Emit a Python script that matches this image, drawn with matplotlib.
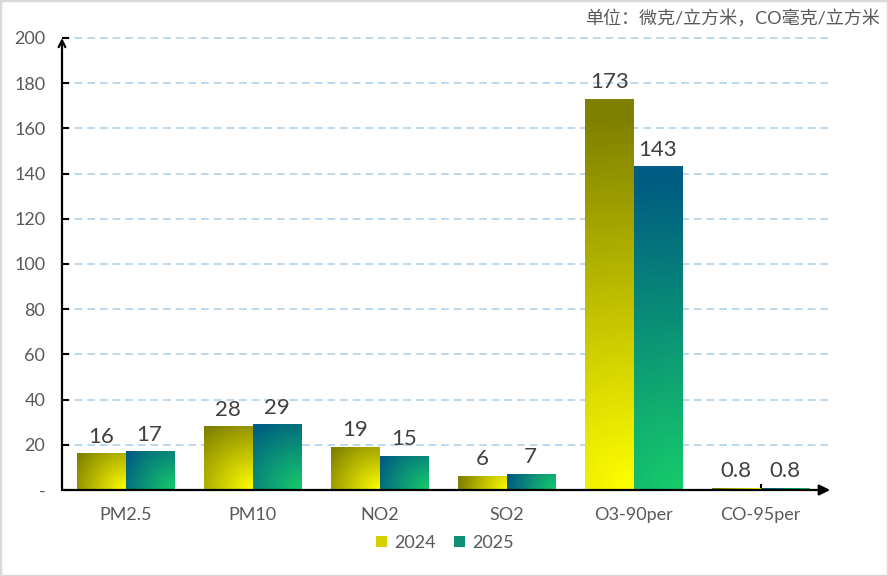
import numpy as np
import matplotlib
matplotlib.use("Agg")
import matplotlib.pyplot as plt
from matplotlib.colors import LinearSegmentedColormap
from matplotlib.patches import Patch

plt.rcParams['font.family'] = ['Lato', 'Noto Sans CJK SC', 'DejaVu Sans']

categories = ['PM2.5', 'PM10', 'NO2', 'SO2', 'O3-90per', 'CO-95per']
series_names = ['2024', '2025']
values_2024 = [16, 28, 19, 6, 173, 0.8]
values_2025 = [17, 29, 15, 7, 143, 0.8]
label_2024 = ['16', '28', '19', '6', '173', '0.8']
label_2025 = ['17', '29', '15', '7', '143', '0.8']
y_ticks = [0, 20, 40, 60, 80, 100, 120, 140, 160, 180, 200]
y_ticklabels = ['-', '20', '40', '60', '80', '100', '120', '140', '160', '180', '200']
unit_text = '单位：微克/立方米，CO毫克/立方米'

cmap_2024 = LinearSegmentedColormap.from_list('c24', ['#ffff00', '#808000'])
cmap_2025 = LinearSegmentedColormap.from_list('c25', ['#17cc6a', '#005c82'])

fig = plt.figure(figsize=(8.88, 5.76), dpi=100)
ax = fig.add_axes([62 / 888, 86 / 576, (824 - 62) / 888, (490 - 38) / 576])

x = np.arange(len(categories))
w = 0.38
ymax = 200
px_x = (824 - 62) / 6.0   # pixels per category unit
px_y = (490 - 38) / 200.0  # pixels per value unit


def gradient_bar(x0, height, cmap):
    if height <= 0:
        return
    bw = w * px_x
    bh = height * px_y
    n = 120
    u = np.linspace(0, 1, n)[None, :]
    v = np.linspace(0, 1, n)[:, None]
    d = np.sqrt(((1 - u) * bw) ** 2 + (v * bh) ** 2) / np.sqrt(bw ** 2 + bh ** 2)
    d = np.clip(d * 1.05, 0, 1)
    ax.imshow(d, cmap=cmap, vmin=0, vmax=1, origin='lower',
              extent=[x0, x0 + w, 0, height], aspect='auto', zorder=3,
              interpolation='bilinear')


for i in range(len(categories)):
    gradient_bar(x[i] - w, values_2024[i], cmap_2024)
    gradient_bar(x[i], values_2025[i], cmap_2025)
    ax.annotate(label_2024[i], (x[i] - w / 2, values_2024[i]), xytext=(0, 5),
                textcoords='offset points', ha='center', va='bottom',
                fontsize=16, color='#404040')
    ax.annotate(label_2025[i], (x[i] + w / 2, values_2025[i]), xytext=(0, 5),
                textcoords='offset points', ha='center', va='bottom',
                fontsize=16, color='#404040')

ax.set_xlim(-0.5, 5.5)
ax.set_ylim(0, ymax)

for yt in y_ticks[1:]:
    ax.axhline(yt, xmin=0, xmax=1.005, color='#bdd7ee', lw=1.4,
               linestyle=(0, (4, 2.5)), zorder=1, clip_on=False)

for s in ax.spines.values():
    s.set_visible(False)

ax.set_yticks(y_ticks)
ax.set_yticklabels(y_ticklabels, fontsize=13, color='#595959')
ax.tick_params(axis='y', direction='in', length=5, width=1.5, color='black', pad=12)
ax.set_xticks(x)
ax.set_xticklabels(categories, fontsize=13, color='#595959')
ax.tick_params(axis='x', direction='in', length=4, width=1.5, color='black', pad=12)
for t in ax.xaxis.get_major_ticks():
    t.tick1line.set_zorder(6)

# axis lines with arrows
ax.annotate('', xy=(0, 1.0), xytext=(0, 0), xycoords='axes fraction',
            arrowprops=dict(arrowstyle='->', color='black', lw=1.6,
                            shrinkA=0, shrinkB=0, mutation_scale=12), zorder=5)
ax.annotate('', xy=(1.008, 0), xytext=(0, 0), xycoords='axes fraction',
            arrowprops=dict(arrowstyle='-|>', color='black', lw=1.6,
                            shrinkA=0, shrinkB=0, mutation_scale=16), zorder=5)

handles = [Patch(facecolor='#d4d000'), Patch(facecolor='#0e8f76')]
fig.legend(handles, series_names, loc='center', bbox_to_anchor=(445 / 888, 1 - 543 / 576),
           ncol=2, frameon=False, fontsize=13, handlelength=0.6, handleheight=0.6,
           columnspacing=1.0, handletextpad=0.4, labelcolor='#595959')

fig.text(880 / 888, 1 - 18 / 576, unit_text, ha='right', va='center',
         fontsize=13, color='#595959')

fig.patches.append(plt.Rectangle((0, 0), 1, 1, transform=fig.transFigure,
                                 fill=False, edgecolor='#d9d9d9', lw=2.5))

fig.savefig('out.png', dpi=100)
